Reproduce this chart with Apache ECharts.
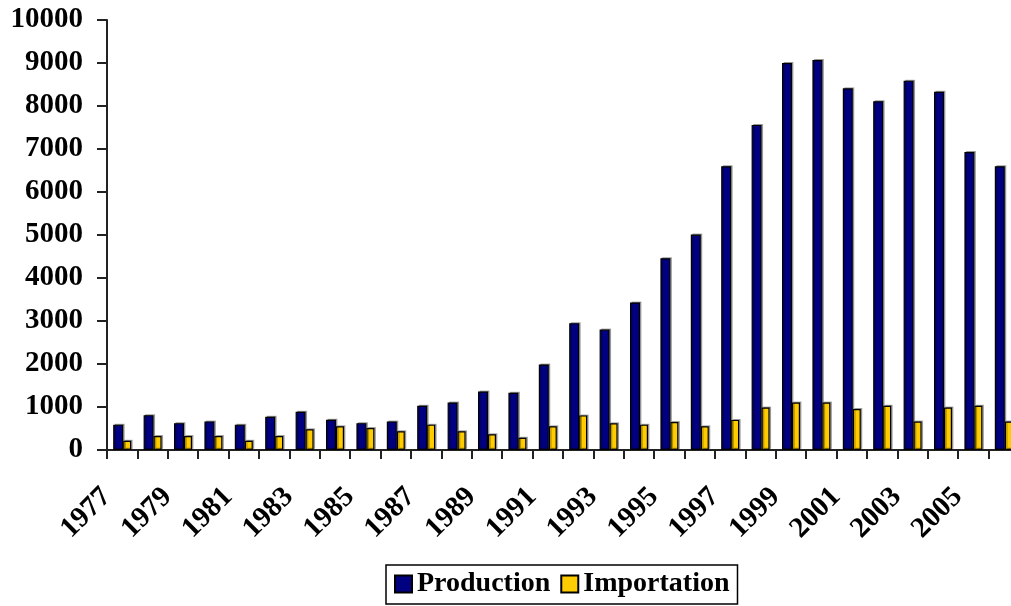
<!DOCTYPE html>
<html>
<head>
<meta charset="utf-8">
<script src="https://cdn.jsdelivr.net/npm/echarts@6/dist/echarts.min.js"></script>
<style>
  html, body { margin: 0; padding: 0; background: #fff; overflow: hidden; }
  #chart { width: 1011px; height: 606px; }
</style>
</head>
<body>
<div id="chart"></div>
<script>
// Yearly production and importation volumes
const years = ['1977','1978','1979','1980','1981','1982','1983','1984','1985','1986',
  '1987','1988','1989','1990','1991','1992','1993','1994','1995','1996',
  '1997','1998','1999','2000','2001','2002','2003','2004','2005','2006'];
const production = [590, 810, 625, 665, 590, 775, 890, 705, 625, 665,
  1030, 1105, 1360, 1330, 1990, 2950, 2800, 3430, 4460, 5010,
  6600, 7560, 9000, 9070, 8410, 8110, 8590, 8330, 6930, 6600];
const importation = [215, 325, 325, 325, 215, 325, 480, 550, 510, 435,
  590, 435, 365, 285, 550, 805, 620, 590, 650, 550,
  700, 990, 1105, 1105, 955, 1030, 660, 990, 1030, 660];
const yTicks = { min: 0, max: 10000, step: 1000 };

const FONT = "'Liberation Serif', 'Times New Roman', serif";
const chart = echarts.init(document.getElementById('chart'));

chart.setOption({
  animation: false,
  backgroundColor: '#fff',
  textStyle: { fontFamily: FONT },
  // the last category runs slightly past the right edge of the canvas
  grid: {
    left: 107, width: 912, top: 20, bottom: 156,
    containLabel: false,
    outerBoundsMode: 'none'
  },
  legend: {
    left: 386,
    top: 565,
    itemWidth: 17,
    itemHeight: 17,
    itemGap: 10,
    padding: [5, 8, 6, 8],
    borderColor: '#000',
    borderWidth: 1.5,
    icon: 'rect',
    textStyle: { fontFamily: FONT, fontWeight: 'bold', fontSize: 28, color: '#000' },
    data: ['Production', 'Importation']
  },
  xAxis: {
    type: 'category',
    data: years,
    boundaryGap: true,
    axisLine: { lineStyle: { color: '#222', width: 2 } },
    axisTick: { show: true, length: 9, lineStyle: { color: '#222', width: 2 }, interval: 0 },
    axisLabel: {
      interval: 1,
      rotate: 45,
      margin: 27,
      padding: [0, 22, 0, 0],
      fontFamily: FONT,
      fontWeight: 'bold',
      fontSize: 29,
      color: '#000'
    },
    splitLine: { show: false }
  },
  yAxis: {
    type: 'value',
    min: yTicks.min,
    max: yTicks.max,
    interval: yTicks.step,
    axisLine: { show: true, lineStyle: { color: '#222', width: 2 } },
    axisTick: { show: true, length: 10, lineStyle: { color: '#222', width: 2 } },
    axisLabel: {
      margin: 24,
      formatter: function (v) { return String(v); },
      fontFamily: FONT,
      fontWeight: 'bold',
      fontSize: 29,
      color: '#000'
    },
    splitLine: { show: false }
  },
  series: [
    {
      name: 'Production',
      type: 'bar',
      data: production,
      barWidth: 10,
      barGap: '0%',
      itemStyle: {
        color: '#000080',
        borderColor: '#000',
        borderWidth: 1.2,
        shadowColor: 'rgba(0,0,0,0.3)',
        shadowOffsetX: 1.5,
        shadowOffsetY: -1
      }
    },
    {
      name: 'Importation',
      type: 'bar',
      data: importation,
      barWidth: 8,
      barGap: '0%',
      itemStyle: {
        color: '#FFCC00',
        borderColor: '#000',
        borderWidth: 1.2,
        shadowColor: 'rgba(0,0,0,0.3)',
        shadowOffsetX: 1.5,
        shadowOffsetY: -1
      }
    }
  ]
});
</script>
</body>
</html>
